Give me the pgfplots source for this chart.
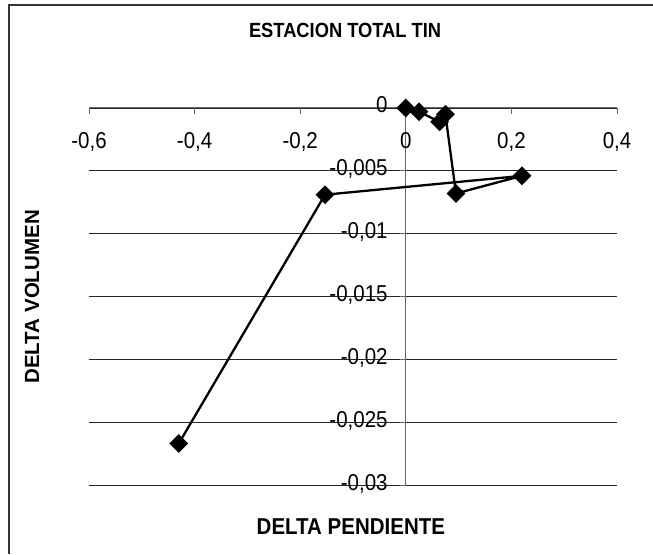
\documentclass[border=0pt]{standalone}
\usepackage{pgfplots}
\pgfplotsset{compat=1.18}
\usepackage{graphicx}
\usepackage{fontspec}
\setmainfont{Liberation Sans}
% the reference text is slightly stretched vertically
\newcommand{\vs}[1]{\scalebox{1}[1.12]{#1}}

\begin{document}
\begin{tikzpicture}
\path[use as bounding box] (0,0) rectangle (653pt,554pt);
% chart border (left and top only visible)
\draw[line width=2pt, black!80] (9pt,0pt) -- (9pt,548.5pt) -- (653pt,548.5pt);

\begin{axis}[
    at={(89pt,69pt)}, anchor=south west,
    scale only axis,
    width=528pt, height=377pt,
    xmin=-0.6, xmax=0.4,
    ymin=-0.03, ymax=0,
    clip=false,
    axis lines=middle,
    hide obscured x ticks=false,
    hide obscured y ticks=false,
    scaled y ticks=false,
    scaled x ticks=false,
    axis line style={-, black!60, line width=1pt},
    xtick={-0.6,-0.4,-0.2,0,0.2,0.4},
    xticklabels={\vs{-0,6},\vs{-0,4},\vs{-0,2},\vs{0},\vs{0,2},\vs{0,4}},
    ytick={-0.03,-0.025,-0.02,-0.015,-0.01,-0.005,0},
    yticklabels={\vs{-0,03},\vs{-0,025},\vs{-0,02},\vs{-0,015},\vs{-0,01},\vs{-0,005},\vs{0}},
    tick align=center,
    major tick length=6pt,
    xtick style={black!60, line width=1pt, yshift=-3pt},
    ytick style={black!60, line width=1pt, xshift=-3pt},
    ymajorgrids=true,
    grid style={black!85, line width=0.9pt},
    xticklabel style={font=\fontsize{20.5}{24}\selectfont, inner sep=0pt, anchor=base, yshift=-37pt},
    yticklabel style={font=\fontsize{20.5}{24}\selectfont, inner sep=0pt, anchor=base east, xshift=-15pt, yshift=-5pt},
    title={\vs{ESTACION TOTAL TIN}},
    title style={font=\bfseries\fontsize{18.3}{22}\selectfont, at={(axis description cs:0.485,1.17)}, anchor=base, inner sep=0pt},
    xlabel={\vs{DELTA PENDIENTE}},
    xlabel style={font=\bfseries\fontsize{20.5}{24}\selectfont, at={(axis description cs:0.496,-0.1326)}, anchor=base, inner sep=0pt},
    ylabel={DELTA VOLUMEN},
    ylabel style={font=\bfseries\fontsize{20.5}{24}\selectfont, at={(axis description cs:-0.0947,0.499)}, rotate=90, anchor=base, inner sep=0pt},
]
\addplot[black, line width=2.3pt, mark=square*, mark size=5.5pt,
    mark options={rotate=45, solid, fill=black}]
    coordinates {
    (0,0)
    (0.025,-0.0003)
    (0.064,-0.0011)
    (0.075,-0.0005)
    (0.095,-0.0068)
    (0.220,-0.0054)
    (-0.153,-0.0069)
    (-0.430,-0.0267)
    };
\end{axis}
\end{tikzpicture}
\end{document}
